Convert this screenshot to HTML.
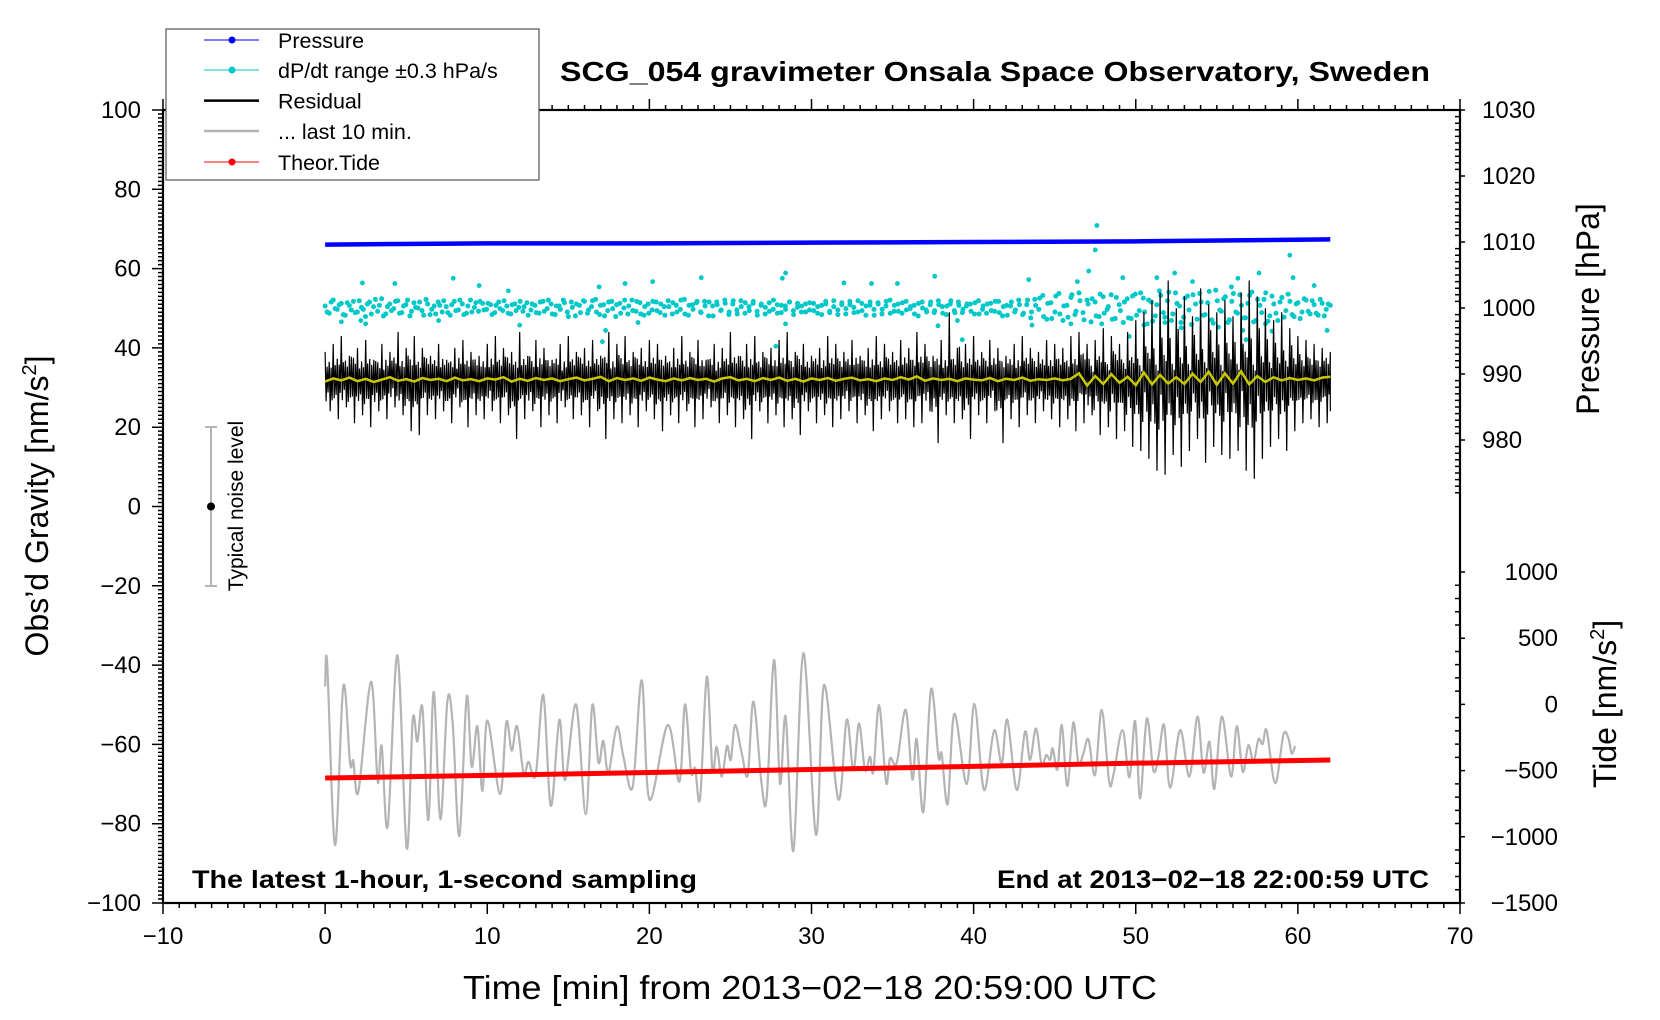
<!DOCTYPE html>
<html><head><meta charset="utf-8"><title>SCG_054 gravimeter</title>
<style>
html,body{margin:0;padding:0;background:#fff;}
svg{display:block;font-family:"Liberation Sans",Arial,sans-serif;}
</style></head>
<body>
<svg id="chart" xmlns="http://www.w3.org/2000/svg" width="1660" height="1020" viewBox="0 0 1660 1020">
<rect x="0" y="0" width="1660" height="1020" fill="#fff"/>
<g id="ticks"></g>
<g id="marks"></g>
<rect x="163" y="110" width="1297" height="793" fill="none" stroke="#000" stroke-width="2.2"/>
<g id="labels" font-size="24" fill="#000"></g>

<text x="995" y="81" text-anchor="middle" font-size="28" font-weight="bold" textLength="870" lengthAdjust="spacingAndGlyphs">SCG_054 gravimeter Onsala Space Observatory, Sweden</text>
<text x="810" y="999" text-anchor="middle" font-size="33" textLength="694" lengthAdjust="spacingAndGlyphs">Time [min] from 2013−02−18 20:59:00 UTC</text>
<text transform="translate(48,506) rotate(-90)" text-anchor="middle" font-size="32">Obs’d Gravity [nm/s<tspan font-size="20" dy="-12">2</tspan><tspan dy="12">]</tspan></text>
<text transform="translate(1599,309) rotate(-90)" text-anchor="middle" font-size="32">Pressure [hPa]</text>
<text transform="translate(1616,704) rotate(-90)" text-anchor="middle" font-size="32">Tide [nm/s<tspan font-size="20" dy="-12">2</tspan><tspan dy="12">]</tspan></text>
<text x="192" y="888" font-size="25" font-weight="bold" textLength="505" lengthAdjust="spacingAndGlyphs">The latest 1-hour, 1-second sampling</text>
<text x="1429" y="888" text-anchor="end" font-size="25" font-weight="bold" textLength="432" lengthAdjust="spacingAndGlyphs">End at 2013−02−18 22:00:59 UTC</text>

<g>
<line x1="211" y1="427" x2="211" y2="586" stroke="#b4b4b4" stroke-width="2"/>
<line x1="205" y1="427" x2="217" y2="427" stroke="#b4b4b4" stroke-width="2"/>
<line x1="205" y1="586" x2="217" y2="586" stroke="#b4b4b4" stroke-width="2"/>
<circle cx="211" cy="506.5" r="4" fill="#000"/>
<text transform="translate(243,506) rotate(-90)" text-anchor="middle" font-size="21">Typical noise level</text>
</g>

<g>
<rect x="166" y="29" width="373" height="151" fill="#fff" stroke="#555" stroke-width="1.2"/>
<g><line x1="204" y1="40" x2="259" y2="40" stroke="#0000ff" stroke-width="1"/><circle cx="232" cy="40" r="3.5" fill="#0000ff"/><text x="278" y="48" font-size="21.5">Pressure</text></g>
<g><line x1="204" y1="70" x2="259" y2="70" stroke="#00c8c8" stroke-width="1"/><circle cx="232" cy="70" r="3.5" fill="#00c8c8"/><text x="278" y="78" font-size="21.5">dP/dt range ±0.3 hPa/s</text></g>
<g><line x1="204" y1="100.6" x2="259" y2="100.6" stroke="#000" stroke-width="2.5"/><text x="278" y="108.6" font-size="21.5">Residual</text></g>
<g><line x1="204" y1="131" x2="259" y2="131" stroke="#b4b4b4" stroke-width="2.5"/><text x="278" y="139" font-size="21.5">... last 10 min.</text></g>
<g><line x1="204" y1="162" x2="259" y2="162" stroke="#ff0000" stroke-width="1"/><circle cx="232" cy="162" r="3.5" fill="#ff0000"/><text x="278" y="170" font-size="21.5">Theor.Tide</text></g>
</g>
</svg>
<script>
// ---------------- data ----------------
const pressureT = [0,10,20,30,40,50,62];
const pressureV = [1009.6,1009.8,1009.8,1009.9,1010.0,1010.1,1010.4];
const tideT = [0,10,20,30,40,50,62];
const tideV = [-556,-536,-514,-492,-468,-444,-420];
const dpdtCore = [0.3,-0.8,1.2,-0.2,0.7,-1.1,0.4,1.0,-0.6,0.1,-1.3,0.9,0.2,-0.5,1.4,-0.9,0.6,-0.1,1.1,-0.7,0.5,-1.2,0.8,0.0,-0.4,1.3,-1.0,0.3,0.9,-0.6,0.2,-1.1,1.0,-0.3,0.6,-0.8,1.2,0.1,-0.5,0.7,
-0.2,0.5,-0.7,0.9,-0.4,0.3,-0.9,0.6,0.1,-0.5,0.8,-0.3,0.4,-0.8,1.0,-0.1,0.6,-1.0,0.3,1.2,-0.6,0.9,-1.2,0.4,1.1,-0.8,0.2,1.3,-1.0,0.5,-0.4,1.0,-1.3,0.7,0.0,-0.9,1.2,-0.5,0.8,-1.1,
0.6,-0.3,0.9,-0.7,0.2,1.1,-0.9,0.4,-0.2,1.3,-1.1,0.5,0.8,-0.6,1.0,-1.2,0.3,0.9,-0.4,1.2,-1.0,0.6,-0.3,1.1,-0.8,0.2,0.7,-0.5,0.4,-0.9,0.8,-0.2,0.5,-0.7,0.3,0.9,-0.4,0.1,-0.6,0.6,
-0.3,0.7,-0.8,0.4,1.0,-0.5,0.2,-1.0,0.8,-0.1,0.5,-0.7,1.1,-0.4,0.3,0.9,-1.1,0.6,-0.2,1.0,-0.8,0.4,-0.5,0.8,-0.3,0.2,-0.9,0.7,0.0,-0.6,0.9,-0.4,0.5,-0.8,0.3,1.1,-0.7,0.4,-0.2,0.6,
-0.5,0.8,-0.9,0.3,0.6,-0.4,1.0,-0.7,0.2,-1.1,0.9,-0.3,0.5,-0.8,1.2,-0.6,0.4,1.5,-1.3,0.7,-1.6,1.8,-0.9,0.3,-1.4,2.0,-0.5,1.1,-1.8,0.6,1.4,-1.2,2.1,-0.8,0.2,-1.7,1.6,-0.4,0.9,-1.5,
1.8,-1.1,2.3,-0.6,1.2,-2.0,0.5,1.9,-1.4,2.4,-0.9,0.7,-2.2,1.5,-0.3,2.0,-1.7,0.9,-1.0,2.5,-2.3,1.1,-0.5,1.7,-1.8,2.2,-0.8,0.4,-1.5,1.9,-2.1,1.3,-0.7,2.3,-1.2,0.6,-1.9,1.6,-0.4,1.0,-1.3,0.8,-0.6,1.2,-0.9,0.5,-1.1,0.7,-0.2,0.4];
const dpdtCore2 = [-0.6,0.9,-0.1,0.5,-1.0,0.8,-0.3,-0.7,1.1,-0.2,0.6,-0.9,1.3,0.4,-1.2,0.2,-0.4,1.0,-0.8,0.3,1.2,-0.5,0.1,0.9,-1.1,0.6,-0.2,-0.9,0.4,1.1,-0.7,0.5,-0.4,1.2,-1.0,0.3,-0.6,0.8,1.0,-0.3,
0.7,-1.0,0.4,-0.1,1.1,-0.8,0.5,-0.4,1.0,0.2,-1.1,0.6,-0.7,0.9,-0.5,1.2,-0.9,0.3,-0.2,0.8,-1.3,0.1,0.6,-0.7,1.0,-0.3,1.1,-0.6,0.4,-1.2,0.9,-0.1,0.5,-0.8,1.2,0.3,-0.4,1.0,-0.9,0.2,
-0.8,1.0,-0.4,0.6,-1.1,0.2,0.8,-0.6,1.2,-0.9,0.4,-0.2,1.0,-0.7,0.3,0.9,-1.2,0.5,-0.3,0.7,-0.6,1.1,-0.9,0.2,0.8,-0.4,1.0,-1.1,0.6,0.1,-0.5,1.2,-0.8,0.4,-0.2,0.9,-1.0,0.7,0.3,-0.6,
0.8,-0.4,0.2,-1.0,0.6,-0.7,1.1,-0.3,0.5,-0.9,1.0,0.1,-0.6,0.7,-1.1,0.4,-0.2,0.8,-0.9,0.3,1.2,-0.5,0.6,-0.8,1.0,-0.1,0.4,-1.2,0.9,-0.3,0.5,-0.7,1.1,0.2,-1.0,0.6,-0.4,0.9,-0.7,0.3,
0.6,-0.9,1.1,-0.2,-0.8,0.7,-0.5,1.0,-1.2,0.4,0.3,-0.6,1.2,-1.0,0.5,-1.5,1.3,-0.2,1.9,-1.7,0.8,-0.6,2.2,-1.9,0.4,1.6,-1.0,2.3,-0.7,1.2,-2.1,0.9,-1.3,1.7,-0.2,2.0,-1.6,0.5,-2.2,1.4,
-1.6,2.1,-0.4,1.5,-2.4,0.9,-1.2,2.6,-0.7,1.1,-1.9,2.3,0.3,-1.4,1.8,-2.5,0.6,2.2,-1.1,0.8,-1.8,2.7,-0.3,1.4,-2.2,1.0,-0.6,2.0,-1.5,0.7,2.4,-1.9,0.4,1.3,-2.0,1.8,-0.8,0.9,-1.4,2.1,-1.0,0.6,-1.6,1.4,-0.5,1.1,-0.8,1.3,-1.2,0.6];
const dpdtOutT = [2.3,2.5,4.3,7.9,1.0,2.2,7.0,9.5,11.3,12.0,16.9,17.3,17.1,18.5,19.3,20.2,23.2,28.2,28.4,27.8,28.4,32.0,33.7,35.3,37.6,37.8,39.0,39.3,43.4,43.6,46.4,47.1,47.6,47.5,49.2,49.6,50.5,51.3,52.4,53.5,55.9,56.3,56.6,56.8,57.6,58.0,58.4,59.5,59.7,61.0,61.8,52.8,51.8,46.0,47.9,55.1];
const dpdtOutV = [3.8,-2.4,3.7,4.5,-2.1,-1.9,-1.9,3.4,2.6,-2.6,3.2,-3.4,-5.1,3.7,-2.2,4.0,4.6,4.5,-2.4,-5.8,5.3,3.8,3.7,3.7,4.8,-2.7,-1.9,-4.8,4.3,-2.6,4.0,5.6,12.5,8.8,4.6,-4.3,-2.6,4.6,5.3,4.0,3.2,4.5,-3.4,-4.8,5.3,-2.4,-3.5,8.0,4.6,3.4,-3.4,-3.0,-2.2,-2.4,-2.4,-2.9];
const residHi = [39,41,43,38,40,42,37,41,39,44,40,
43,40,38,41,37,40,42,39,38,41,
43,40,39,44,38,42,40,37,41,43,
39,40,42,38,44,41,43,39,40,42,
41,38,40,43,39,42,37,41,40,44,
38,41,43,39,40,42,44,39,41,38,
40,43,41,39,42,38,40,43,41,39,
42,40,44,41,38,42,49,40,41,43,
39,42,40,38,41,43,40,39,42,41,
40,43,44,41,42,45,43,41,44,47,
49,52,54,57,50,53,48,55,51,49,
52,48,54,57,53,50,47,49,45,43,
42,41,40,39];
const residLo = [24,22,25,21,23,20,24,22,25,23,19,
18,23,22,24,21,25,20,23,22,24,
21,23,17,22,24,20,23,21,25,22,
23,20,24,17,22,21,23,20,24,22,
19,23,21,24,20,22,25,21,23,20,
22,17,24,21,23,20,22,18,24,21,
23,20,22,24,21,23,19,22,24,21,
22,20,21,24,16,23,21,22,17,23,
21,24,16,22,20,23,21,24,22,20,
22,19,21,23,18,20,17,19,15,14,
12,9,8,13,10,14,17,11,15,13,
12,14,9,7,12,15,17,14,19,21,
22,20,21,24];
const smoothV = [31.5,32.3,31.8,32.5,31.6,32.2,31.4,32.0,32.6,31.7,32.1,
31.5,32.4,31.9,32.2,31.6,32.5,31.8,32.1,31.6,32.3,
32.0,32.6,31.5,32.2,31.7,32.4,31.9,32.3,31.6,32.1,
32.5,31.8,32.2,32.7,31.6,32.4,31.9,32.3,31.7,32.5,
32.0,31.6,32.3,31.8,32.4,31.9,32.2,31.5,32.3,32.6,
31.8,32.2,31.6,32.4,31.9,32.5,31.7,32.2,31.5,32.3,
31.9,32.4,31.7,32.2,32.5,31.8,32.1,31.6,32.3,31.9,
32.6,32.0,32.8,31.7,32.3,31.9,32.2,31.6,32.3,32.0,
31.8,32.4,31.6,32.2,31.9,32.5,31.7,32.1,31.9,32.3,
31.8,32.2,33.6,30.5,32.9,30.9,33.4,31.2,32.7,30.6,
33.8,30.8,33.2,31.0,32.6,30.9,33.5,31.4,34.0,30.7,
33.6,31.0,34.1,30.8,32.9,31.4,32.6,31.8,32.4,31.9,
32.3,31.8,32.5,32.7];
const lastT = [0.0,0.13,0.61,1.12,1.54,1.74,2.05,2.83,3.24,3.49,3.86,4.46,5.03,5.40,5.69,6.0,6.37,6.70,7.11,7.54,7.87,8.28,8.73,9.04,9.39,9.70,10.01,10.79,11.18,11.51,11.84,12.25,12.54,12.99,13.46,13.92,14.45,14.80,15.48,16.07,16.48,16.86,17.16,17.47,17.99,18.40,18.97,19.53,20.0,21.13,21.85,22.20,22.57,22.82,23.13,23.54,23.89,24.15,24.46,24.79,25.02,25.29,25.70,26.07,26.42,26.93,27.24,27.69,28.06,28.41,28.89,29.50,30.28,30.77,31.66,32.17,32.58,32.93,33.30,33.61,33.82,34.17,34.6,34.85,35.26,35.81,36.22,36.49,36.90,37.37,37.83,38.03,38.40,38.81,39.57,40.05,40.64,41.26,41.73,42.08,42.66,43.17,43.48,43.85,44.2,44.47,44.72,44.88,45.17,45.44,45.78,46.15,46.46,46.77,47.08,47.49,47.90,48.36,48.62,49.18,49.61,49.96,50.27,50.68,51.09,51.40,51.75,52.12,52.74,53.31,53.81,54.18,54.55,54.85,55.31,55.88,56.23,56.6,56.95,57.26,57.57,57.83,58.08,58.6,59.11,59.42,59.62,59.83];
const lastV = [-45.4,-39.7,-85.4,-45.3,-64.8,-64.1,-71.9,-44.2,-69.4,-60.4,-80.7,-37.5,-86.2,-53.8,-59.3,-50.7,-79.1,-46.7,-78.9,-49.0,-54.7,-83.1,-48.0,-65.6,-55.4,-71.7,-54.0,-72.5,-54.3,-61.6,-55.4,-67.5,-64.4,-67.7,-47.5,-75.5,-53.8,-69.0,-49.9,-77.6,-50.1,-64.6,-59.1,-67.3,-55.5,-63.1,-70.7,-43.8,-73.9,-55.1,-69.4,-49.9,-66.9,-66.0,-73.6,-42.9,-66.5,-60.6,-68.1,-60.4,-63.9,-55.1,-62.3,-67.7,-49.2,-70.2,-73.2,-38.7,-69.8,-53.0,-86.8,-37.0,-82.8,-45.0,-73.9,-53.8,-66.5,-54.7,-66.5,-63.1,-66.9,-50.1,-69.6,-63.5,-64.6,-51.3,-68.8,-58.7,-77.0,-46.1,-63.1,-62.4,-75.0,-52.3,-70.0,-49.8,-71.5,-56.5,-64.8,-53.8,-71.5,-56.8,-63.9,-56.0,-65.2,-62.7,-63.9,-61.0,-66.3,-55.1,-70.5,-54.5,-64.8,-62.3,-58.7,-67.7,-51.3,-69.4,-67.7,-56.4,-68.3,-54.1,-73.6,-53.5,-66.6,-63.1,-55.1,-70.9,-56.4,-68.1,-53.0,-67.1,-59.3,-71.2,-53.0,-68.1,-55.4,-66.9,-60.2,-64.4,-58.7,-59.9,-56.5,-69.8,-57.6,-58.5,-62.3,-60.4];
const xTicks = [-10,0,10,20,30,40,50,60,70];
const gTicks = [-100,-80,-60,-40,-20,0,20,40,60,80,100];
const pTicks = [980,990,1000,1010,1020,1030];
const tTicks = [-1500,-1000,-500,0,500,1000];

// ---------------- scales ----------------
const NS = 'http://www.w3.org/2000/svg';
const X = t => 163 + (t + 10) * 16.2125;
const G = g => 506.5 - g * 3.965;
const P = p => 110 + (1030 - p) * 6.6;
const TD = v => 903 - (v + 1500) * 0.1324;
function mk(tag, attrs, parent){const e=document.createElementNS(NS,tag);for(const k in attrs)e.setAttribute(k,attrs[k]);parent.appendChild(e);return e;}
const ticks = document.getElementById('ticks');
const marks = document.getElementById('marks');
const labels = document.getElementById('labels');
const fmt = v => v < 0 ? '\u2212' + Math.abs(v) : String(v);

// ---------------- ticks ----------------
let d = '';
for (let t = -10; t <= 70; t++) {
  const x = X(t), maj = t % 10 === 0;
  d += `M${x} 903V${903 + (maj ? 11 : 5)}M${x} 110V${110 - (maj ? 11 : 5)}`;
}
for (let g = -100; g <= 100; g++) {
  const y = G(g), maj = g % 20 === 0;
  d += `M163 ${y}H${163 - (maj ? 11 : 5)}`;
}
for (let p = 972; p <= 1030; p++) {
  const y = P(p), maj = p % 10 === 0;
  d += `M1460 ${y}H${maj ? 1465 : 1455}`;
}
for (let v = -1500; v <= 1050; v += 100) {
  const y = TD(v), maj = v % 500 === 0;
  d += `M1460 ${y}H${maj ? 1465 : 1455}`;
}
const tp = mk('path', {d: d, stroke: '#000', 'stroke-width': 1.5, fill: 'none'}, ticks);



xTicks.forEach(t => {
  const e = mk('text', {x: X(t), y: 944, 'text-anchor': 'middle'}, labels);
  e.textContent = fmt(t);
  
  
});
gTicks.forEach(g => {
  const e = mk('text', {x: 141, y: G(g) + 8, 'text-anchor': 'end'}, labels);
  e.textContent = fmt(g);
  
  
});
pTicks.forEach(p => {
  const e = mk('text', {x: 1482, y: P(p) + 8}, labels);
  e.textContent = fmt(p);
  
  
});
tTicks.forEach(v => {
  const e = mk('text', {x: 1558, y: TD(v) + 8, 'text-anchor': 'end'}, labels);
  e.textContent = fmt(v);
  
  
});

// ---------------- series ----------------
const pl = mk('polyline', {points: pressureT.map((t,i)=>X(t)+','+P(pressureV[i])).join(' '), fill:'none', stroke:'#0000ff', 'stroke-width':4.5}, marks);



// dP/dt dots
const dg = mk('g', {fill: '#00c8c8'}, marks);


const nC = dpdtCore.length;
dpdtCore.forEach((v,i) => {
  mk('circle', {cx: X(i * 62 / (nC - 1)), cy: P(1000 + v), r: 2.5}, dg);
});
const nC2 = dpdtCore2.length;
dpdtCore2.forEach((v,i) => {
  mk('circle', {cx: X((i + 0.5) * 62 / nC2), cy: P(1000 + v), r: 2.5}, dg);
});
dpdtOutT.forEach((t,i) => {
  mk('circle', {cx: X(t), cy: P(1000 + dpdtOutV[i]), r: 2.4}, dg);
});

// residual
let rd = '';
const nR = residHi.length;
for (let i = 0; i < nR; i++) {
  const t = i * 62 / (nR - 1), s = smoothV[i];
  const hiPrev = i > 0 ? residHi[i-1] : residHi[i];
  const loNext = i < nR - 1 ? residLo[i+1] : residLo[i];
  const pts = [[t, residHi[i]], [t + 0.06, s - 5], [t + 0.12, (s + hiPrev) / 2], [t + 0.18, (s + residLo[i]) / 2 + 1],
               [t + 0.25, s + 5], [t + 0.31, residLo[i]], [t + 0.37, s + 3.5], [t + 0.43, (s + loNext) / 2]];
  pts.forEach((p, k) => {
    const tt = Math.min(p[0], 62);
    rd += (i === 0 && k === 0 ? 'M' : 'L') + X(tt).toFixed(1) + ' ' + G(p[1]).toFixed(1);
  });
}
const rp = mk('path', {d: rd, fill:'none', stroke:'#000', 'stroke-width':1.2}, marks);



const yl = mk('polyline', {points: smoothV.map((v,i)=>X(i*62/(smoothV.length-1)).toFixed(1)+','+G(v).toFixed(1)).join(' '), fill:'none', stroke:'#c8c800', 'stroke-width':2.5}, marks);



function catmull(px){
  let s = `M${px[0][0]} ${px[0][1]}`;
  for (let i = 0; i < px.length - 1; i++) {
    const p0 = px[Math.max(i-1,0)], p1 = px[i], p2 = px[i+1], p3 = px[Math.min(i+2,px.length-1)];
    const c1x = p1[0] + (p2[0]-p0[0])/6, c1y = p1[1] + (p2[1]-p0[1])/6;
    const c2x = p2[0] - (p3[0]-p1[0])/6, c2y = p2[1] - (p3[1]-p1[1])/6;
    s += `C${c1x.toFixed(1)} ${c1y.toFixed(1)} ${c2x.toFixed(1)} ${c2y.toFixed(1)} ${p2[0].toFixed(1)} ${p2[1].toFixed(1)}`;
  }
  return s;
}
const gp = mk('path', {d: catmull(lastT.map((t,i)=>[X(t), G(lastV[i])])), fill:'none', stroke:'#b4b4b4', 'stroke-width':2.2}, marks);



const tl = mk('polyline', {points: tideT.map((t,i)=>X(t)+','+TD(tideV[i])).join(' '), fill:'none', stroke:'#ff0000', 'stroke-width':5}, marks);


</script>
</body></html>
